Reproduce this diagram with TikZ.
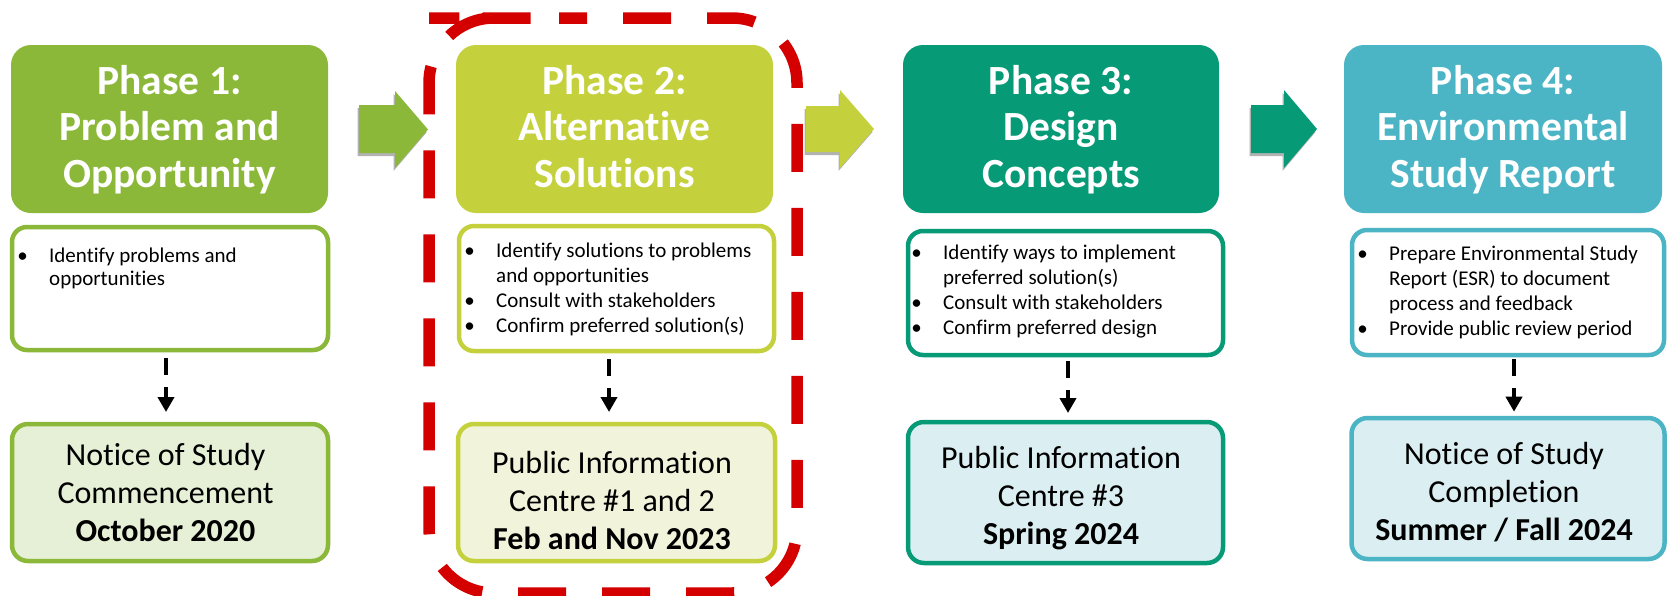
\documentclass[tikz,border=0pt]{standalone}
\usepackage{fontspec}
\setmainfont{Carlito}[Ligatures=NoCommon]
\usetikzlibrary{arrows.meta,shadows}
\definecolor{cA}{HTML}{8CB83A}
\definecolor{cB}{HTML}{C4D13C}
\definecolor{cC}{HTML}{079A77}
\definecolor{cD}{HTML}{4BB4C5}
\definecolor{fA}{HTML}{E6F0D6}
\definecolor{fB}{HTML}{F1F4DA}
\definecolor{fC}{HTML}{DBEFF2}
\definecolor{redD}{HTML}{D40000}
\newcommand{\bdot}{\makebox[53pt]{\textbullet}}
\newcommand{\hstrut}{\rule{0pt}{37pt}}
\begin{document}
\begin{tikzpicture}[x=1pt,y=-1pt,
  hdr/.style={fill=#1, rounded corners=20pt, inner sep=0pt, outer sep=0pt, minimum height=168pt, text=white, font=\fontsize{41.5}{46.5}\selectfont\bfseries, align=center},
  bbox/.style={draw=#1, fill=white, line width=4.5pt, rounded corners=15pt, inner sep=0pt, outer sep=0pt},
  nbox/.style 2 args={draw=#1, fill=#2, line width=4.5pt, rounded corners=16pt, inner sep=0pt, outer sep=0pt},
  btxt/.style={anchor=base west, inner sep=0pt, font=\fontsize{21}{25}\selectfont},
  ntxt/.style={inner sep=0pt, align=center, font=\fontsize{32}{38}\selectfont},
  darr/.style={line width=4.5pt, dash pattern=on 17pt off 12pt, -{Triangle[length=15pt,width=16pt]}},
  blk/.style={fill=#1, drop shadow={shadow xshift=-1.5pt, shadow yshift=-3pt, opacity=0.3, fill=black}},
]
\useasboundingbox[fill=white] (0,0) rectangle (1667,595);

% block arrows
\fill[blk=cA] (359,105) -- (395,105) -- (395,91) -- (428,129.5) -- (395,168) -- (395,153) -- (359,153) -- cycle;
\fill[blk=cB] (806,106) -- (840,106) -- (840,90) -- (874,129) -- (840,168) -- (840,152) -- (806,152) -- cycle;
\fill[blk=cC] (1251,105) -- (1284,105) -- (1284,90) -- (1317,129) -- (1284,168) -- (1284,153) -- (1251,153) -- cycle;

% headers
\node[hdr=cA, minimum width=317pt] (h1) at (169.5,129) {\hstrut Phase 1:\\ Problem and\\ Opportunity\strut};
\node[hdr=cB, minimum width=317pt] (h2) at (614.5,129) {\hstrut Phase 2:\\ Alternative\\ Solutions\strut};
\node[hdr=cC, minimum width=316pt] (h3) at (1061,129) {\hstrut Phase 3:\\ Design\\ Concepts\strut};
\node[hdr=cD, minimum width=318pt] (h4) at (1503,129) {\hstrut Phase 4:\\ Environmental\\ Study Report\strut};

% bullet boxes
\node[bbox=cA, minimum width=316pt, minimum height=123pt] (b1) at (170,288.5) {};
\node[bbox=cB, minimum width=315pt, minimum height=125pt] (b2) at (616.5,288.5) {};
\node[bbox=cC, minimum width=315pt, minimum height=124pt] (b3) at (1065.5,293) {};
\node[bbox=cD, minimum width=312pt, minimum height=125pt] (b4) at (1508,292.5) {};

\node[btxt, font=\fontsize{21}{22.5}\selectfont] (bt1) at (-4,262.5) {\begin{tabular}[t]{@{}l@{}l@{}}\bdot & Identify problems and\\ & opportunities\end{tabular}};
\node[btxt] (bt2) at (443,257) {\begin{tabular}[t]{@{}l@{}l@{}}\bdot & Identify solutions to problems\\ & and opportunities\\ \bdot & Consult with stakeholders\\ \bdot & Confirm preferred solution(s)\end{tabular}};
\node[btxt] (bt3) at (890,259.3) {\begin{tabular}[t]{@{}l@{}l@{}}\bdot & Identify ways to implement\\ & preferred solution(s)\\ \bdot & Consult with stakeholders\\ \bdot & Confirm preferred design\end{tabular}};
\node[btxt] (bt4) at (1336,260) {\begin{tabular}[t]{@{}l@{}l@{}}\bdot & Prepare Environmental Study\\ & Report (ESR) to document\\ & process and feedback\\ \bdot & Provide public review period\end{tabular}};

% notice boxes
\node[nbox={cA}{fA}, minimum width=316pt, minimum height=137pt] (n1) at (170,492.5) {};
\node[nbox={cB}{fB}, minimum width=317pt, minimum height=137pt] (n2) at (616.5,492.5) {};
\node[nbox={cC}{fC}, minimum width=315pt, minimum height=141pt] (n3) at (1065.5,492.5) {};
\node[nbox={cD}{fC}, minimum width=313pt, minimum height=141pt] (n4) at (1508,488.5) {};

\node[ntxt] (t1) at ([xshift=-4.5pt,yshift=-3pt]n1.center) {\strut Notice of Study\\ Commencement\\ \textbf{October 2020}\strut};
\node[ntxt] (t2) at ([xshift=-4.5pt,yshift=-11pt]n2.center) {\strut Public Information\\ Centre \#1 and 2\\ \textbf{Feb and Nov 2023}\strut};
\node[ntxt] (t3) at ([xshift=-4.5pt,yshift=-6.6pt]n3.center) {\strut Public Information\\ Centre \#3\\ \textbf{Spring 2024}\strut};
\node[ntxt] (t4) at ([xshift=-4pt,yshift=-6.6pt]n4.center) {\strut Notice of Study\\ Completion\\ \textbf{Summer / Fall 2024}\strut};

% dashed connectors
\draw[darr, shorten <=8pt, shorten >=12pt] ([xshift=-4pt]b1.south) -- ([xshift=-4pt]n1.north);
\draw[darr, shorten <=8pt, shorten >=12pt] ([xshift=-7.5pt]b2.south) -- ([xshift=-7.5pt]n2.north);
\draw[darr, shorten <=6pt, shorten >=9pt] ([xshift=2.5pt]b3.south) -- ([xshift=2.5pt]n3.north);
\draw[darr, shorten <=4.3pt, shorten >=6.3pt] ([xshift=6pt]b4.south) -- ([xshift=6pt]n4.north);

% red dashed highlight
\draw[redD, line width=11.5pt, dash pattern=on 48pt off 36pt, dash phase=20pt, rounded corners=65pt] (494,18) -- (797,18) -- (797,593) -- (429,593) -- (429,18) -- cycle;
\end{tikzpicture}
\end{document}
